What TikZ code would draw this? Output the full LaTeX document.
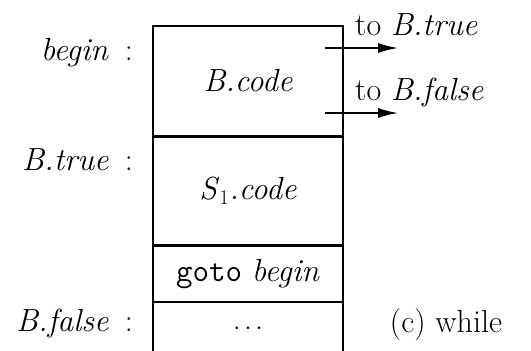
\documentclass[tikz,border=0pt]{standalone}
\usepackage{tikz}
\usetikzlibrary{arrows.meta,positioning}

\begin{document}
\begin{tikzpicture}[
        x=1pt, y=-1pt,
        font=\fontsize{32}{38}\selectfont,
        cell/.style={draw, line width=1.5pt, minimum width=190pt, inner sep=0pt},
        lbl/.style={anchor=east, inner sep=0pt},
        tolbl/.style={anchor=west, inner sep=0pt},
        arr/.style={-{Latex[length=20pt,width=10pt]}, line width=1.5pt},
    ]
    \useasboundingbox (0,0) rectangle (531,351);

    % the code layout of the while statement
    \node[cell, minimum height=110pt, anchor=north] (bcode) at (248,25) {\textit{B.code}};
    \node[cell, minimum height=107pt, below=0pt of bcode] (scode) {\textit{S}$_1$\textit{.code}};
    \node[cell, minimum height=56pt, below=0pt of scode] (jump) {\texttt{goto} \textit{begin}};
    \node[minimum width=190pt, minimum height=53pt, inner sep=0pt, below=0pt of jump] (rest) {$\cdots$};
    \draw[line width=1.5pt] (rest.north west) -- (rest.south west);
    \draw[line width=1.5pt] (rest.north east) -- (rest.south east);

    % labels on the left
    \node[lbl] (lbegin) at (133,53) {\textit{begin}\enspace:};
    \node[lbl] (ltrue) at (133,160) {\textit{B.true}\enspace:};
    \node[lbl] (lfalse) at (133,323) {\textit{B.false}\enspace:};

    % jumps out of B.code
    \coordinate (otrue) at (325,48);
    \coordinate (etrue) at (398,48);
    \coordinate (ofalse) at (325,113);
    \coordinate (efalse) at (398,113);
    \node[tolbl] (ttrue) at (355,25) {to \textit{B.true}};
    \node[tolbl] (tfalse) at (355,92) {to \textit{B.false}};
    \draw[arr] (otrue) -- (etrue);
    \draw[arr] (ofalse) -- (efalse);

    \node (cap) at (446,325) {(c) while};
\end{tikzpicture}
\end{document}
